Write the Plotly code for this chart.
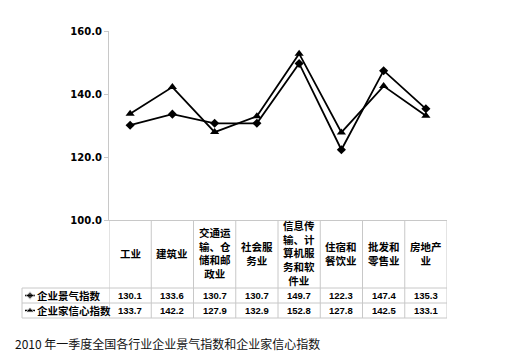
import plotly.graph_objects as go

categories = ["工业", "建筑业", "交通运<br>输、仓<br>储和邮<br>政业", "社会服<br>务业",
              "信息传<br>输、计<br>算机服<br>务和软<br>件业", "住宿和<br>餐饮业", "批发和<br>零售业", "房地产<br>业"]
series_names = ["企业景气指数", "企业家信心指数"]
jingqi = [130.1, 133.6, 130.7, 130.7, 149.7, 122.3, 147.4, 135.3]
xinxin = [133.7, 142.2, 127.9, 132.9, 152.8, 127.8, 142.5, 133.1]
y_ticks = [100, 120, 140, 160]
caption = "2010 年一季度全国各行业企业景气指数和企业家信心指数"

W, H = 510, 356
def px(x):
    return x / W
def py(y):
    return 1 - y / H

n = len(categories)
xpos = [i + 0.5 for i in range(n)]
GRID = "#c8c8c8"

fig = go.Figure()
fig.add_trace(go.Scatter(x=xpos, y=jingqi, mode="lines+markers", name=series_names[0],
                         line=dict(color="black", width=1.8),
                         marker=dict(symbol="diamond", size=7, color="black")))
fig.add_trace(go.Scatter(x=xpos, y=xinxin, mode="lines+markers", name=series_names[1],
                         line=dict(color="black", width=1.8),
                         marker=dict(symbol="triangle-up", size=8, color="black")))

# legend symbols in the table (pixel axes covering the whole figure)
row_y = [295.5, 310.5]
for sym, ry, sz in zip(["diamond", "triangle-up"], row_y, [6, 7]):
    fig.add_trace(go.Scatter(x=[25, 30, 35], y=[ry, ry, ry], mode="lines+markers",
                             xaxis="x2", yaxis="y2", showlegend=False, hoverinfo="skip",
                             cliponaxis=False,
                             line=dict(color="black", width=1.5),
                             marker=dict(symbol=sym, size=[0, sz, 0], color="black")))

shapes = []
for i in range(n + 1):
    shapes.append(dict(type="line", xref="x", yref="paper", x0=i, x1=i,
                       y0=py(220), y1=py(318), line=dict(color=GRID, width=1)))
shapes.append(dict(type="line", xref="paper", yref="paper", x0=px(22), x1=px(22),
                   y0=py(288), y1=py(318), line=dict(color=GRID, width=1)))
for yy in [288, 303, 318]:
    shapes.append(dict(type="line", xref="paper", yref="paper", x0=px(22), x1=px(447),
                       y0=py(yy), y1=py(yy), line=dict(color=GRID, width=1)))

annotations = []
cat_font = dict(family="Noto Sans CJK SC", size=10.5, color="black")
for xp, c in zip(xpos, categories):
    annotations.append(dict(x=xp, y=py(253), xref="x", yref="paper", text="<b>" + c + "</b>",
                            showarrow=False, font=cat_font, align="center",
                            xanchor="center", yanchor="middle"))
val_font = dict(family="Liberation Sans", size=9.5, color="black")
for vals, ry in zip([jingqi, xinxin], row_y):
    for xp, v in zip(xpos, vals):
        annotations.append(dict(x=xp, y=py(ry), xref="x", yref="paper", text="<b>%.1f</b>" % v,
                                showarrow=False, font=val_font, xanchor="center", yanchor="middle"))
for name, ry in zip(series_names, row_y):
    annotations.append(dict(x=px(35), y=py(ry), xref="paper", yref="paper", text="<b>" + name + "</b>",
                            showarrow=False, font=dict(family="Noto Sans CJK SC", size=10.5, color="black"),
                            xanchor="left", yanchor="middle"))
annotations.append(dict(x=px(13), y=py(343), xref="paper", yref="paper", text=caption,
                        showarrow=False, font=dict(family="Noto Sans CJK SC", size=12, color="#111"),
                        xanchor="left", yanchor="middle"))

fig.update_layout(
    width=W, height=H, margin=dict(l=0, r=0, t=0, b=0, pad=0, autoexpand=False),
    paper_bgcolor="white", plot_bgcolor="rgba(0,0,0,0)", showlegend=False,
    xaxis=dict(domain=[px(109), px(447)], range=[0, n], showgrid=False, zeroline=False,
               showticklabels=False, ticks="", showline=True, linecolor=GRID, linewidth=1,
               automargin=False, anchor="y"),
    yaxis=dict(domain=[py(220), py(31)], range=[100, 160], tickvals=y_ticks,
               ticktext=["<b>%.1f</b>" % t for t in y_ticks], showgrid=False, zeroline=False,
               showline=True, linecolor=GRID, linewidth=1, ticks="outside", ticklen=4,
               tickcolor=GRID, tickfont=dict(family="DejaVu Sans", size=10, color="black"),
               automargin=False, anchor="x"),
    xaxis2=dict(domain=[0, 1], range=[0, W], visible=False, anchor="y2", automargin=False),
    yaxis2=dict(domain=[0, 1], range=[H, 0], visible=False, anchor="x2", automargin=False),
    shapes=shapes, annotations=annotations,
)

fig.write_html("out.html", config={"displayModeBar": False},
               post_script="document.body.style.margin='0';document.body.style.overflow='hidden';")
